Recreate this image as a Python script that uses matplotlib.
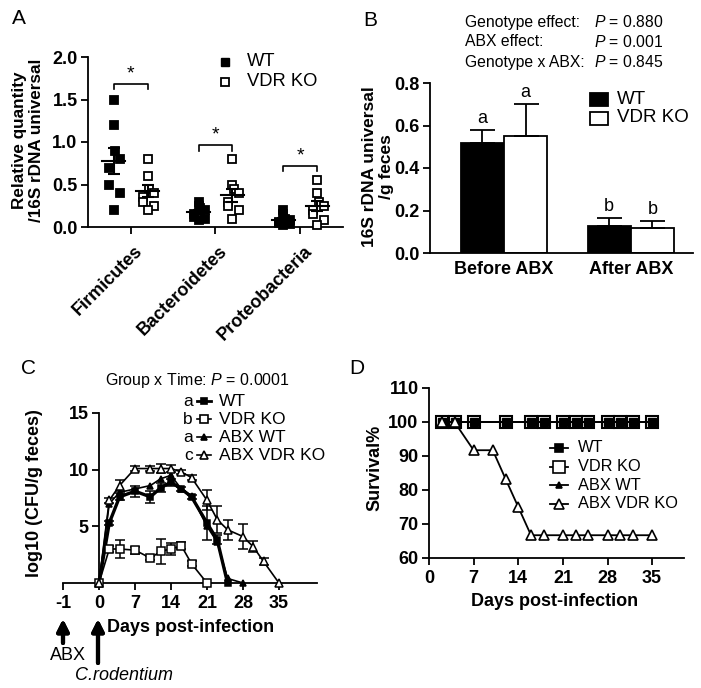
import numpy as np
import matplotlib.pyplot as plt
import matplotlib.transforms as mtransforms
from matplotlib.lines import Line2D
from matplotlib.patches import Rectangle

plt.rcParams['font.family'] = ['Liberation Sans', 'DejaVu Sans']
plt.rcParams['mathtext.fontset'] = 'custom'
plt.rcParams['mathtext.rm'] = 'Liberation Sans'
plt.rcParams['mathtext.it'] = 'Liberation Sans:italic'
plt.rcParams['axes.linewidth'] = 1.3
plt.rcParams['xtick.major.width'] = 1.3
plt.rcParams['ytick.major.width'] = 1.3
plt.rcParams['xtick.major.size'] = 5
plt.rcParams['ytick.major.size'] = 5
plt.rcParams['ytick.major.pad'] = 2.5

# ---- A: phylum qPCR, one value per mouse
phyla = ['Firmicutes', 'Bacteroidetes', 'Proteobacteria']
a_wt = [[1.5, 1.2, 0.9, 0.8, 0.7, 0.5, 0.4, 0.2],
        [0.3, 0.25, 0.22, 0.2, 0.15, 0.12, 0.1, 0.08],
        [0.2, 0.15, 0.1, 0.08, 0.06, 0.05, 0.03, 0.02]]
a_ko = [[0.8, 0.6, 0.45, 0.4, 0.35, 0.3, 0.25, 0.2],
        [0.8, 0.5, 0.45, 0.4, 0.3, 0.25, 0.2, 0.1],
        [0.55, 0.4, 0.3, 0.25, 0.2, 0.15, 0.08, 0.02]]
a_bracket = [1.68, 0.96, 0.72]

# ---- B: total bacteria before / after antibiotics
b_groups = ['Before ABX', 'After ABX']
b_wt = [0.52, 0.125]
b_wt_sem = [0.06, 0.04]
b_ko = [0.55, 0.12]
b_ko_sem = [0.15, 0.032]
b_wt_letters = ['a', 'b']
b_ko_letters = ['a', 'b']
b_stats = [('Genotype effect:', '0.880'), ('ABX effect:', '0.001'),
           ('Genotype x ABX:', '0.845')]

# ---- C: C. rodentium shedding
c_names = ['WT', 'VDR KO', 'ABX WT', 'ABX VDR KO']
c_letters = ['a', 'b', 'a', 'c']
c_days = [[0, 2, 4, 7, 10, 12, 14, 16, 18, 21, 23, 25],
          [0, 2, 4, 7, 10, 12, 14, 16, 18, 21],
          [0, 2, 4, 7, 10, 12, 14, 16, 18, 21, 23, 25, 28],
          [0, 2, 4, 7, 10, 12, 14, 16, 18, 21, 23, 25, 28, 30, 32, 35]]
c_vals = [[0, 5.3, 7.6, 8.1, 7.6, 8.4, 8.9, 8.3, 7.6, 5.3, 3.8, 0],
          [0, 3.0, 3.0, 2.9, 2.2, 2.8, 3.0, 3.3, 1.7, 0],
          [0, 7.0, 8.0, 8.3, 8.6, 9.2, 9.5, 8.3, 7.7, 5.0, 3.6, 0.4, 0],
          [0, 7.3, 8.6, 10.1, 10.1, 10.1, 10.1, 9.8, 9.3, 7.3, 5.6, 4.7, 4.1, 3.2, 1.9, 0]]
c_sem = [[0, 0.2, 0.3, 0.5, 0.5, 0.4, 0.3, 0.2, 0.2, 1.5, 0.4, 0],
         [0, 0.3, 0.8, 0.3, 0.2, 1.1, 0.5, 0.3, 0.2, 0],
         [0] * 13,
         [0, 0.2, 0.5, 0.2, 0.2, 0.4, 0.3, 0.2, 0.2, 0.9, 1.2, 0.9, 1.1, 0.5, 0.3, 0]]

# ---- D: survival
d_days = [2, 4, 7, 12, 16, 18, 21, 23, 25, 28, 30, 32, 35]
d_wt = [100] * 13
d_ko = [100] * 13
d_abxwt = [100] * 13
d_abxko_days = [2, 4, 7, 10, 12, 14, 16, 18, 21, 23, 25, 28, 30, 32, 35]
d_abxko = [100, 100, 91.7, 91.7, 83.3, 75.0, 66.7, 66.7, 66.7, 66.7, 66.7,
           66.7, 66.7, 66.7, 66.7]

W, H = 701, 688
fig = plt.figure(figsize=(W / 100, H / 100), dpi=100)


def fx(x):
    return x / W


def fy(y):
    return 1 - y / H


TICK = 13
LAB = 13

# styles shared by C and D
styles = [dict(marker='s', mfc='black', mec='black'),
          dict(marker='s', mfc='white', mec='black'),
          dict(marker='^', mfc='black', mec='black'),
          dict(marker='^', mfc='white', mec='black')]


def clean(ax):
    for s in ('top', 'right'):
        ax.spines[s].set_visible(False)
    ax.tick_params(labelsize=TICK)
    for t in ax.get_xticklabels() + ax.get_yticklabels():
        t.set_fontweight('bold')


def legend_row(xc, y, half, label, xt, fs, lw=1.3, **mk):
    fig.add_artist(Line2D([fx(xc - half), fx(xc + half)], [fy(y)] * 2,
                          color='black', lw=lw))
    fig.add_artist(Line2D([fx(xc)], [fy(y)], ls='none', mew=1.2, **mk))
    fig.text(fx(xt), fy(y), label, ha='left', va='center', fontsize=fs)


# ================= A
axA = fig.add_axes([fx(88), fy(227), 255 / W, 170 / H])
jit = np.array([0, 0, 0.02, 0.08, -0.05, -0.05, 0.08, 0.0])
for i in range(3):
    for off, vals, fc in ((-0.2, a_wt[i], 'black'), (0.2, a_ko[i], 'white')):
        v = np.array(vals)
        x0 = i + off
        axA.plot(x0 + jit, v, 's', mfc=fc, mec='black', mew=1.3, ms=5.5,
                 clip_on=False, zorder=3)
        m = v.mean()
        s = v.std(ddof=1) / np.sqrt(len(v))
        axA.plot([x0 - 0.13, x0 + 0.13], [m, m], color='black', lw=1.5, zorder=4)
        axA.errorbar(x0, m, yerr=s, fmt='none', ecolor='black', elinewidth=1.5,
                     capsize=4, capthick=1.5, zorder=4)
    yb = a_bracket[i]
    axA.plot([i - 0.2, i - 0.2, i + 0.2, i + 0.2], [yb - 0.06, yb, yb, yb - 0.06],
             color='black', lw=1.2)
    axA.text(i, yb + 0.02, '*', ha='center', va='bottom', fontsize=14)
axA.set_xlim(-0.5, 2.5)
axA.set_ylim(0, 2.0)
axA.set_yticks([0, 0.5, 1.0, 1.5, 2.0])
axA.set_yticklabels(['0.0', '0.5', '1.0', '1.5', '2.0'])
axA.set_xticks([0, 1, 2])
axA.set_xticklabels([])
clean(axA)
tr = mtransforms.blended_transform_factory(axA.transData, axA.transAxes)
for i, name in enumerate(phyla):
    axA.text(i + 0.04, -0.09, name, transform=tr, rotation=45, ha='right',
             va='top', rotation_mode='anchor', fontsize=LAB, fontweight='bold')
fig.text(fx(28), fy(140), 'Relative quantity\n/16S rDNA universal', rotation=90,
         ha='center', va='center', fontsize=12.3, fontweight='bold',
         linespacing=1.15)
fig.add_artist(Line2D([fx(225)], [fy(62)], marker='s', color='black', ms=6))
fig.add_artist(Line2D([fx(225)], [fy(82)], marker='s', mfc='white', mec='black',
                      mew=1.3, ms=6))
fig.text(fx(247), fy(62), 'WT', ha='left', va='center', fontsize=13.2)
fig.text(fx(247), fy(82), 'VDR KO', ha='left', va='center', fontsize=13.2)

# ================= B
axB = fig.add_axes([fx(430), fy(253), 263 / W, 170 / H])
xb = np.arange(len(b_groups))
axB.bar(xb - 0.17, b_wt, 0.34, color='black', edgecolor='black', lw=1.3, zorder=2)
axB.bar(xb + 0.17, b_ko, 0.34, color='white', edgecolor='black', lw=1.3, zorder=2)
for off, vals, sem, lets in ((-0.17, b_wt, b_wt_sem, b_wt_letters),
                             (0.17, b_ko, b_ko_sem, b_ko_letters)):
    axB.errorbar(xb + off, vals, yerr=[np.zeros(len(vals)), sem], fmt='none',
                 ecolor='black', elinewidth=1.3, capsize=9, capthick=1.3, zorder=3)
    for j in range(len(vals)):
        axB.text(xb[j] + off, vals[j] + sem[j] + 0.015, lets[j], ha='center',
                 va='bottom', fontsize=13)
axB.set_xlim(-0.583, 1.49)
axB.set_ylim(0, 0.8)
axB.set_yticks([0, 0.2, 0.4, 0.6, 0.8])
axB.set_yticklabels(['0.0', '0.2', '0.4', '0.6', '0.8'])
axB.set_xticks(xb)
axB.set_xticklabels(b_groups)
axB.tick_params(axis='x', length=0, pad=6)
clean(axB)
fig.text(fx(378), fy(167), '16S rDNA universal\n/g feces', rotation=90,
         ha='center', va='center', fontsize=12.5, fontweight='bold',
         linespacing=1.1)
for k, (lab, p) in enumerate(b_stats):
    yy = 22 + 20 * k
    fig.text(fx(465), fy(yy), lab, ha='left', va='center', fontsize=11.3)
    fig.text(fx(663), fy(yy), r'$\it{P}$ = ' + p, ha='right', va='center',
             fontsize=11.3)
fig.add_artist(Rectangle((fx(590), fy(106)), 18 / W, 13 / H, facecolor='black',
                         edgecolor='black', lw=1.3, transform=fig.transFigure))
fig.add_artist(Rectangle((fx(590), fy(125)), 18 / W, 13 / H, facecolor='white',
                         edgecolor='black', lw=1.3, transform=fig.transFigure))
fig.text(fx(617), fy(99), 'WT', ha='left', va='center', fontsize=13.5)
fig.text(fx(617), fy(118), 'VDR KO', ha='left', va='center', fontsize=13.5)

# ================= C
axC = fig.add_axes([fx(63), fy(583), 254 / W, 170 / H])
c_lw = [2.4, 1.2, 1.2, 1.2]
c_ms = [5, 5.5, 4.5, 6]
for g in range(4):
    d = np.array(c_days[g])
    v = np.array(c_vals[g])
    e = np.array(c_sem[g])
    axC.plot(d, v, color='black', lw=c_lw[g], ms=c_ms[g], mew=1.1,
             clip_on=False, zorder=3 + g, **styles[g])
    nz = e > 0
    if nz.any():
        axC.errorbar(d[nz], v[nz], yerr=e[nz], fmt='none', ecolor='black',
                     elinewidth=1.1, capsize=3.5, capthick=1.1, zorder=2)
axC.set_xlim(-7, 42.4)
axC.set_ylim(0, 15)
axC.spines['left'].set_position(('data', 0))
axC.set_xticks([-7, 0, 7, 14, 21, 28, 35])
axC.set_xticklabels(['-1', '0', '7', '14', '21', '28', '35'])
axC.set_yticks([5, 10, 15])
clean(axC)
fig.text(fx(35), fy(493), 'log10 (CFU/g feces)', rotation=90, ha='center',
         va='center', fontsize=LAB, fontweight='bold')
fig.text(fx(197), fy(380), r'Group x Time: $\it{P}$ = 0.0001', ha='center',
         va='center', fontsize=11.5)
for g in range(4):
    yy = 401 + 18 * g
    fig.text(fx(193), fy(yy), c_letters[g], ha='right', va='center', fontsize=12.5)
    legend_row(204, yy, 7, c_names[g], 219, 12.5, lw=c_lw[g] if g else 2.0,
               ms=c_ms[g], color='black', **styles[g])
fig.text(fx(107), fy(627), 'Days post-infection', ha='left', va='center',
         fontsize=LAB, fontweight='bold')
for xa, yb in ((63, 643), (98, 663)):
    fig.add_artist(plt.annotate('', xy=(xa, H - 619), xytext=(xa, H - yb),
                                xycoords='figure pixels',
                                arrowprops=dict(arrowstyle='-|>,head_length=0.5,head_width=0.25',
                                                lw=3, color='black',
                                                shrinkA=0, shrinkB=0,
                                                mutation_scale=14)))
fig.text(fx(68), fy(655), 'ABX', ha='center', va='center', fontsize=13)
fig.text(fx(124), fy(675), 'C.rodentium', ha='center', va='center',
         fontsize=13, fontstyle='italic')

# ================= D
axD = fig.add_axes([fx(429), fy(558), 255 / W, 170 / H])
axD.plot(d_days, d_wt, color='black', lw=1.3, ms=6, clip_on=False, zorder=3,
         **styles[0])
axD.plot(d_days, d_ko, color='black', lw=1.3, ms=9, mew=1.5, clip_on=False,
         zorder=4, marker='s', mfc='none', mec='black')
axD.plot(d_days, d_abxwt, color='black', lw=1.3, ms=5, clip_on=False, zorder=5,
         **styles[2])
axD.plot(d_abxko_days, d_abxko, color='black', lw=1.3, ms=7, mew=1.2,
         clip_on=False, zorder=6, **styles[3])
axD.set_xlim(0, 40)
axD.set_ylim(60, 110)
axD.set_xticks([0, 7, 14, 21, 28, 35])
axD.set_yticks([60, 70, 80, 90, 100, 110])
clean(axD)
fig.text(fx(375), fy(468), 'Survival%', rotation=90, ha='center', va='center',
         fontsize=LAB, fontweight='bold')
fig.text(fx(555), fy(602), 'Days post-infection', ha='center', va='center',
         fontsize=LAB, fontweight='bold')
d_ms = [6, 8, 5, 7]
for g in range(4):
    legend_row(559, 448 + 18.5 * g, 9, c_names[g], 578, 11.8, ms=d_ms[g],
               color='black', **styles[g])

# panel letters
for lab, (x, y) in zip('ABCD', [(19, 19), (370, 20), (29, 369), (357, 369)]):
    fig.text(fx(x), fy(y), lab, ha='center', va='center', fontsize=15)

fig.savefig('out.png', dpi=100)
